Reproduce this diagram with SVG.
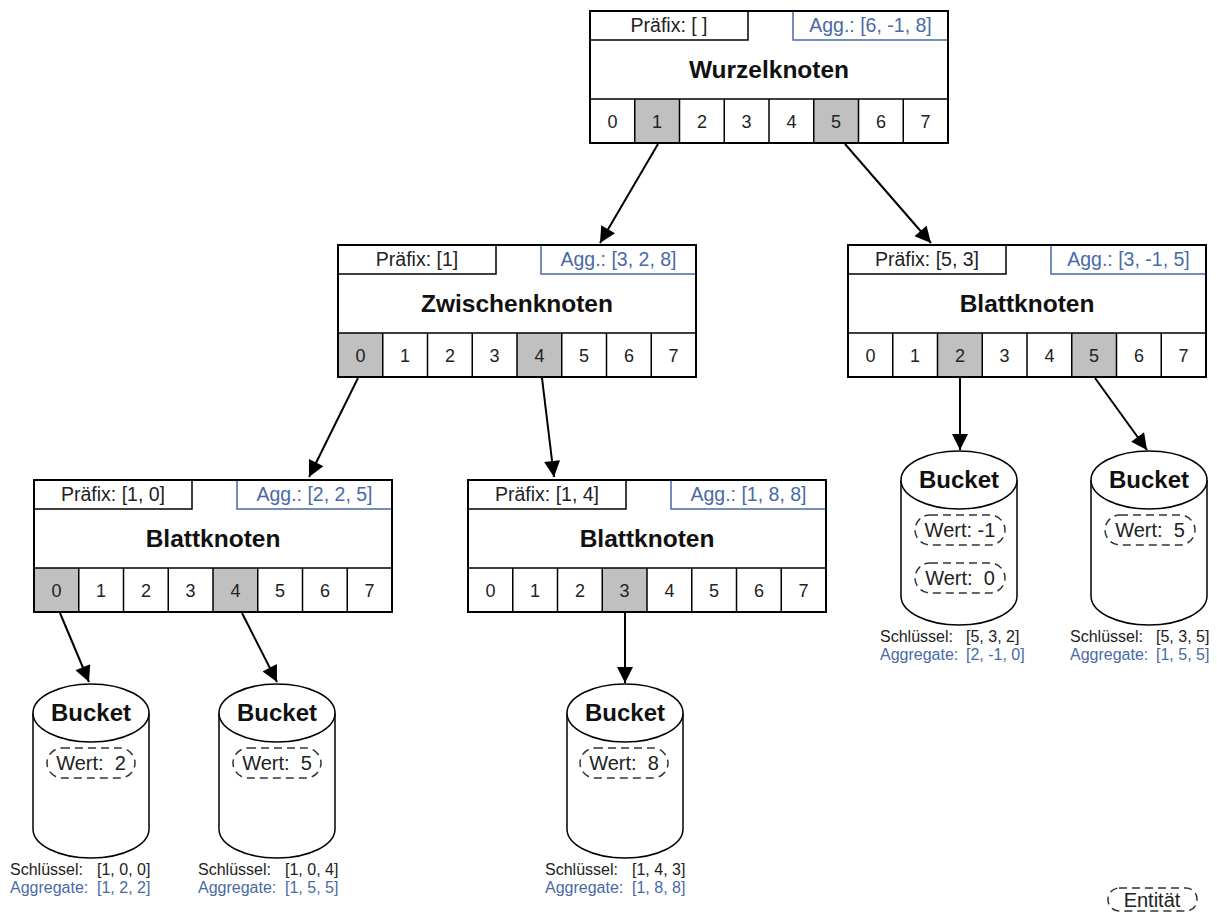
<svg xmlns="http://www.w3.org/2000/svg" width="1217" height="915" viewBox="0 0 1217 915">
<defs>
<style>
text{font-family:"Liberation Sans",Arial,sans-serif;fill:#222;white-space:pre}
.box{fill:#fff;stroke:#000;stroke-width:2}
.pre{fill:none;stroke:#000;stroke-width:1.5}
.agg{fill:none;stroke:#4a6aa5;stroke-width:1.5}
.div{stroke:#000;stroke-width:1.5;fill:none}
.hl{fill:#c0c0c0}
.pt{font-size:19.5px;text-anchor:middle}
.at{font-size:19.5px;text-anchor:middle;fill:#4a6aa5}
.title{font-size:24.5px;font-weight:bold;text-anchor:middle;fill:#111}
.cell{font-size:18px;text-anchor:middle}
.cyl{fill:#fff;stroke:#000;stroke-width:1.5}
.bt{font-size:24px;font-weight:bold;text-anchor:middle;fill:#111}
.cap{fill:none;stroke:#333;stroke-width:1.5;stroke-dasharray:8 5}
.wt{font-size:20px;text-anchor:middle}
.lk{font-size:16px}
.la{font-size:16px;fill:#4a6aa5}
.arr{stroke:#000;stroke-width:2;fill:none;marker-end:url(#ah)}
</style>
<marker id="ah" viewBox="0 0 10 10" refX="10" refY="5" markerWidth="8.5" markerHeight="8" orient="auto" markerUnits="strokeWidth">
<path d="M0,0 L10,5 L0,10 Z" fill="#000"/>
</marker>
</defs>

<g id="connectors">
<line class="arr" x1="658" y1="144" x2="600" y2="243"/>
<line class="arr" x1="845" y1="144" x2="931" y2="243"/>
<line class="arr" x1="358" y1="378" x2="309" y2="477"/>
<line class="arr" x1="542" y1="378" x2="554" y2="477"/>
<line class="arr" x1="960" y1="378" x2="960" y2="450"/>
<line class="arr" x1="1095" y1="378" x2="1147" y2="450"/>
<line class="arr" x1="60" y1="613" x2="89" y2="682"/>
<line class="arr" x1="242" y1="613" x2="277" y2="682"/>
<line class="arr" x1="625" y1="613" x2="625" y2="683"/>
</g>

<g id="root">
<rect class="box" x="590" y="11" width="358" height="132"/>
<rect class="hl" x="634.75" y="99" width="44.75" height="44"/>
<rect class="hl" x="813.75" y="99" width="44.75" height="44"/>
<rect class="pre" x="590" y="11" width="158" height="29"/>
<path class="agg" d="M793 11 V40 H948"/>
<text class="pt" x="669" y="32">Präfix: [ ]</text>
<text class="at" x="870.5" y="32">Agg.: [6, -1, 8]</text>
<text class="title" x="769" y="78">Wurzelknoten</text>
<path class="div" d="M590 99 H948 M634.75 99 V143 M679.5 99 V143 M724.25 99 V143 M769 99 V143 M813.75 99 V143 M858.5 99 V143 M903.25 99 V143"/>
<rect x="590" y="11" width="358" height="132" fill="none" stroke="#000" stroke-width="2"/>
<text class="cell" x="612.4" y="128">0</text><text class="cell" x="657.1" y="128">1</text><text class="cell" x="701.9" y="128">2</text><text class="cell" x="746.6" y="128">3</text><text class="cell" x="791.4" y="128">4</text><text class="cell" x="836.1" y="128">5</text><text class="cell" x="880.9" y="128">6</text><text class="cell" x="925.6" y="128">7</text>
</g>

<g id="mid">
<rect class="box" x="338" y="245" width="358" height="132"/>
<rect class="hl" x="338" y="333" width="44.75" height="44"/>
<rect class="hl" x="517" y="333" width="44.75" height="44"/>
<rect class="pre" x="338" y="245" width="158" height="29"/>
<path class="agg" d="M541 245 V274 H696"/>
<text class="pt" x="417" y="266">Präfix: [1]</text>
<text class="at" x="618.5" y="266">Agg.: [3, 2, 8]</text>
<text class="title" x="517" y="312">Zwischenknoten</text>
<path class="div" d="M338 333 H696 M382.75 333 V377 M427.5 333 V377 M472.25 333 V377 M517 333 V377 M561.75 333 V377 M606.5 333 V377 M651.25 333 V377"/>
<rect x="338" y="245" width="358" height="132" fill="none" stroke="#000" stroke-width="2"/>
<text class="cell" x="360.4" y="362">0</text><text class="cell" x="405.1" y="362">1</text><text class="cell" x="449.9" y="362">2</text><text class="cell" x="494.6" y="362">3</text><text class="cell" x="539.4" y="362">4</text><text class="cell" x="584.1" y="362">5</text><text class="cell" x="628.9" y="362">6</text><text class="cell" x="673.6" y="362">7</text>
</g>

<g id="leafRight">
<rect class="box" x="848" y="245" width="358" height="132"/>
<rect class="hl" x="937.5" y="333" width="44.75" height="44"/>
<rect class="hl" x="1071.75" y="333" width="44.75" height="44"/>
<rect class="pre" x="848" y="245" width="158" height="29"/>
<path class="agg" d="M1051 245 V274 H1206"/>
<text class="pt" x="927" y="266">Präfix: [5, 3]</text>
<text class="at" x="1128.5" y="266">Agg.: [3, -1, 5]</text>
<text class="title" x="1027" y="312">Blattknoten</text>
<path class="div" d="M848 333 H1206 M892.75 333 V377 M937.5 333 V377 M982.25 333 V377 M1027 333 V377 M1071.75 333 V377 M1116.5 333 V377 M1161.25 333 V377"/>
<rect x="848" y="245" width="358" height="132" fill="none" stroke="#000" stroke-width="2"/>
<text class="cell" x="870.4" y="362">0</text><text class="cell" x="915.1" y="362">1</text><text class="cell" x="959.9" y="362">2</text><text class="cell" x="1004.6" y="362">3</text><text class="cell" x="1049.4" y="362">4</text><text class="cell" x="1094.1" y="362">5</text><text class="cell" x="1138.9" y="362">6</text><text class="cell" x="1183.6" y="362">7</text>
</g>

<g id="leafLeft">
<rect class="box" x="34" y="480" width="358" height="132"/>
<rect class="hl" x="34" y="568" width="44.75" height="44"/>
<rect class="hl" x="213" y="568" width="44.75" height="44"/>
<rect class="pre" x="34" y="480" width="158" height="29"/>
<path class="agg" d="M237 480 V509 H392"/>
<text class="pt" x="113" y="501">Präfix: [1, 0]</text>
<text class="at" x="314.5" y="501">Agg.: [2, 2, 5]</text>
<text class="title" x="213" y="547">Blattknoten</text>
<path class="div" d="M34 568 H392 M78.75 568 V612 M123.5 568 V612 M168.25 568 V612 M213 568 V612 M257.75 568 V612 M302.5 568 V612 M347.25 568 V612"/>
<rect x="34" y="480" width="358" height="132" fill="none" stroke="#000" stroke-width="2"/>
<text class="cell" x="56.4" y="597">0</text><text class="cell" x="101.1" y="597">1</text><text class="cell" x="145.9" y="597">2</text><text class="cell" x="190.6" y="597">3</text><text class="cell" x="235.4" y="597">4</text><text class="cell" x="280.1" y="597">5</text><text class="cell" x="324.9" y="597">6</text><text class="cell" x="369.6" y="597">7</text>
</g>

<g id="leafMid">
<rect class="box" x="468" y="480" width="358" height="132"/>
<rect class="hl" x="602.25" y="568" width="44.75" height="44"/>
<rect class="pre" x="468" y="480" width="158" height="29"/>
<path class="agg" d="M671 480 V509 H826"/>
<text class="pt" x="547" y="501">Präfix: [1, 4]</text>
<text class="at" x="748.5" y="501">Agg.: [1, 8, 8]</text>
<text class="title" x="647" y="547">Blattknoten</text>
<path class="div" d="M468 568 H826 M512.75 568 V612 M557.5 568 V612 M602.25 568 V612 M647 568 V612 M691.75 568 V612 M736.5 568 V612 M781.25 568 V612"/>
<rect x="468" y="480" width="358" height="132" fill="none" stroke="#000" stroke-width="2"/>
<text class="cell" x="490.4" y="597">0</text><text class="cell" x="535.1" y="597">1</text><text class="cell" x="579.9" y="597">2</text><text class="cell" x="624.6" y="597">3</text><text class="cell" x="669.4" y="597">4</text><text class="cell" x="714.1" y="597">5</text><text class="cell" x="758.9" y="597">6</text><text class="cell" x="803.6" y="597">7</text>
</g>

<g id="bucket1">
<path class="cyl" d="M33 713 V829 A58 29 0 0 0 149 829 V713"/>
<ellipse class="cyl" cx="91" cy="713" rx="58" ry="29"/>
<text class="bt" x="91" y="721">Bucket</text>
<rect class="cap" x="47" y="748" width="88" height="30" rx="15"/>
<text class="wt" x="91" y="770" xml:space="preserve">Wert:  2</text>
<text class="lk" x="10" y="875">Schlüssel:</text><text class="lk" x="97" y="875">[1, 0, 0]</text>
<text class="la" x="10" y="893">Aggregate:</text><text class="la" x="97" y="893">[1, 2, 2]</text>
</g>

<g id="bucket2">
<path class="cyl" d="M219 713 V829 A58 29 0 0 0 335 829 V713"/>
<ellipse class="cyl" cx="277" cy="713" rx="58" ry="29"/>
<text class="bt" x="277" y="721">Bucket</text>
<rect class="cap" x="233" y="748" width="88" height="30" rx="15"/>
<text class="wt" x="277" y="770" xml:space="preserve">Wert:  5</text>
<text class="lk" x="198" y="875">Schlüssel:</text><text class="lk" x="285" y="875">[1, 0, 4]</text>
<text class="la" x="198" y="893">Aggregate:</text><text class="la" x="285" y="893">[1, 5, 5]</text>
</g>

<g id="bucket3">
<path class="cyl" d="M567 713 V829 A58 29 0 0 0 683 829 V713"/>
<ellipse class="cyl" cx="625" cy="713" rx="58" ry="29"/>
<text class="bt" x="625" y="721">Bucket</text>
<rect class="cap" x="580" y="748" width="88" height="30" rx="15"/>
<text class="wt" x="624" y="770" xml:space="preserve">Wert:  8</text>
<text class="lk" x="545" y="875">Schlüssel:</text><text class="lk" x="632" y="875">[1, 4, 3]</text>
<text class="la" x="545" y="893">Aggregate:</text><text class="la" x="632" y="893">[1, 8, 8]</text>
</g>

<g id="bucket4">
<path class="cyl" d="M901 480 V596 A58 29 0 0 0 1017 596 V480"/>
<ellipse class="cyl" cx="959" cy="480" rx="58" ry="29"/>
<text class="bt" x="959" y="488">Bucket</text>
<rect class="cap" x="915" y="515" width="90" height="30" rx="15"/>
<text class="wt" x="960" y="537" xml:space="preserve">Wert: -1</text>
<rect class="cap" x="915" y="563" width="90" height="30" rx="15"/>
<text class="wt" x="960" y="585" xml:space="preserve">Wert:  0</text>
<text class="lk" x="880" y="642">Schlüssel:</text><text class="lk" x="966" y="642">[5, 3, 2]</text>
<text class="la" x="880" y="660">Aggregate:</text><text class="la" x="966" y="660">[2, -1, 0]</text>
</g>

<g id="bucket5">
<path class="cyl" d="M1091 480 V596 A58 29 0 0 0 1207 596 V480"/>
<ellipse class="cyl" cx="1149" cy="480" rx="58" ry="29"/>
<text class="bt" x="1149" y="488">Bucket</text>
<rect class="cap" x="1105" y="515" width="90" height="30" rx="15"/>
<text class="wt" x="1150" y="537" xml:space="preserve">Wert:  5</text>
<text class="lk" x="1070" y="642">Schlüssel:</text><text class="lk" x="1156" y="642">[5, 3, 5]</text>
<text class="la" x="1070" y="660">Aggregate:</text><text class="la" x="1156" y="660">[1, 5, 5]</text>
</g>

<g id="legend">
<rect class="cap" x="1108" y="888" width="89" height="23" rx="11"/>
<text class="wt" x="1152" y="907">Entität</text>
</g>
</svg>
